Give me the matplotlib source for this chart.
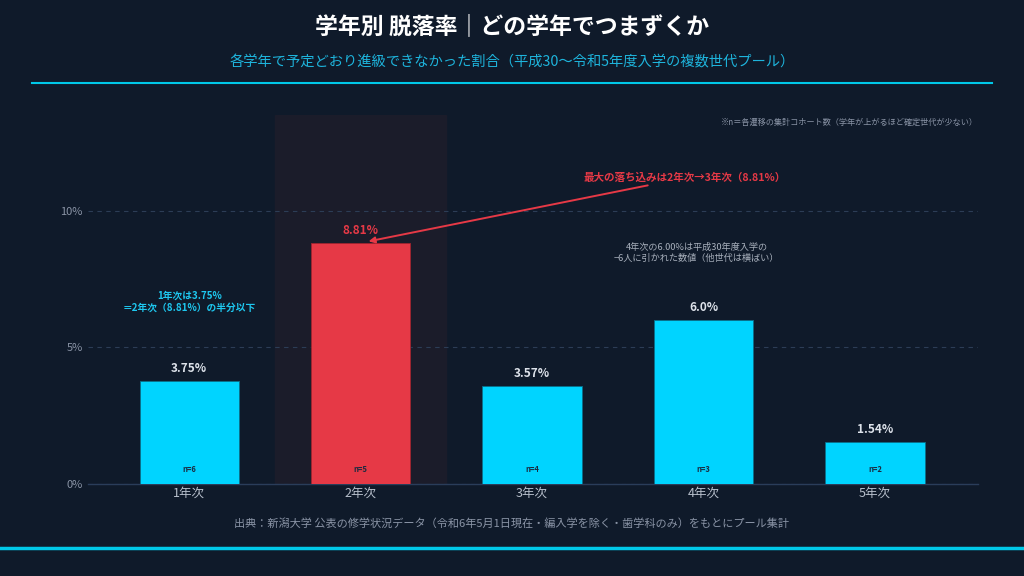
import matplotlib
matplotlib.use("Agg")
import matplotlib.pyplot as plt
from matplotlib.lines import Line2D

plt.rcParams['font.family'] = ['Noto Sans CJK JP', 'DejaVu Sans']

# data
grades = ["1年次", "2年次", "3年次", "4年次", "5年次"]
rates = [3.75, 8.81, 3.57, 6.0, 1.54]
rate_labels = ["3.75%", "8.81%", "3.57%", "6.0%", "1.54%"]
cohorts = [6, 5, 4, 3, 2]
peak = 1

BG = "#0f1a2a"
CYAN = "#00d4ff"
RED = "#e63946"
GREY = "#8a94a6"

fig = plt.figure(figsize=(10.24, 5.76), dpi=100, facecolor=BG)
ax = fig.add_axes([0.086, 0.16, 0.869, 0.64], facecolor=BG)

x = list(range(len(grades)))
colors = [RED if i == peak else CYAN for i in x]

# highlight band behind the peak bar
ax.axvspan(peak - 0.5, peak + 0.5, color="#1b1c2a", zorder=0)

bars = ax.bar(x, rates, width=0.58, color=colors, edgecolor="#0a6f8a", linewidth=0.6, zorder=3)
bars[peak].set_edgecolor("#a0252f")

for i, (r, lab, n) in enumerate(zip(rates, rate_labels, cohorts)):
    ax.text(i, r + 0.22, lab, ha="center", va="bottom", fontsize=8.5, fontweight="bold",
            color=RED if i == peak else "#dde2ea", zorder=4)
    ax.text(i, 0.35, f"n={n}", ha="center", va="bottom", fontsize=5.5, fontweight="bold",
            color="#1a2a40", zorder=4)

ax.set_xlim(-0.59, 4.6)
ax.set_ylim(0, 13.5)
ax.set_yticks([0, 5, 10])
ax.set_yticklabels(["0%", "5%", "10%"])
ax.set_xticks(x)
ax.set_xticklabels(grades)
ax.tick_params(axis="y", length=0, colors=GREY, labelsize=8, pad=4)
ax.tick_params(axis="x", length=0, colors="#b8c0cc", labelsize=9, pad=2)
ax.grid(axis="y", color="#2c3d56", linestyle=(0, (4, 4)), linewidth=0.8, zorder=1)
for s in ["top", "right", "left"]:
    ax.spines[s].set_visible(False)
ax.spines["bottom"].set_color("#2a3d5a")
ax.spines["bottom"].set_linewidth(1)

# annotations
ax.annotate("", xy=(1.03, 8.86), xytext=(2.69, 10.95),
            arrowprops=dict(arrowstyle="-|>", color=RED, lw=1.4, mutation_scale=9), zorder=5)
ax.text(2.89, 11.2, "最大の落ち込みは2年次→3年次（8.81%）", ha="center", va="center",
        fontsize=7.6, fontweight="bold", color=RED)
ax.text(2.96, 8.45, "4年次の6.00%は平成30年度入学の\n−6人に引かれた数値（他世代は横ばい）",
        ha="center", va="center", fontsize=6.6, color="#a8b0bc", linespacing=1.3)
ax.text(0.0, 6.67, "1年次は3.75%\n＝2年次（8.81%）の半分以下", ha="center", va="center",
        fontsize=7, fontweight="bold", color="#1ec8f0", linespacing=1.3)
ax.text(4.6, 13.25, "※n＝各遷移の集計コホート数（学年が上がるほど確定世代が少ない）",
        ha="right", va="center", fontsize=5.9, color="#8a94a6")

# titles and frame lines
fig.text(0.5, 0.953, "学年別 脱落率｜どの学年でつまずくか", ha="center", va="center",
         fontsize=16.5, fontweight="bold", color="white")
fig.text(0.5, 0.892, "各学年で予定どおり進級できなかった割合（平成30〜令和5年度入学の複数世代プール）",
         ha="center", va="center", fontsize=10.3, color="#1eb4dc")
fig.add_artist(Line2D([0.031, 0.969], [0.856, 0.856], color="#00c8e8", lw=1.5))
fig.text(0.5, 0.092, "出典：新潟大学 公表の修学状況データ（令和6年5月1日現在・編入学を除く・歯学科のみ）をもとにプール集計",
         ha="center", va="center", fontsize=8, color="#8a94a6")
fig.add_artist(Line2D([0, 1], [0.049, 0.049], color="#00c8e8", lw=2.5))

fig.savefig("out.png", dpi=100, facecolor=BG)
